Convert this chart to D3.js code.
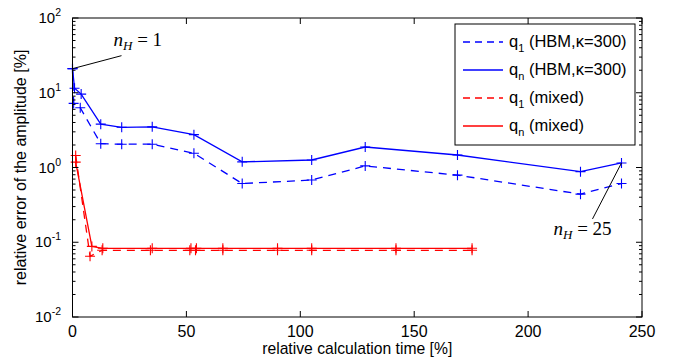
<!DOCTYPE html>
<html>
<head>
<meta charset="utf-8">
<script src="https://cdn.jsdelivr.net/npm/d3@7"></script>
<style>
  body { margin: 0; background: #fff; }
  text { font-family: "Liberation Sans", Arial, Helvetica, sans-serif; }
  text.math { font-family: "Liberation Serif", "DejaVu Serif", serif; }
</style>
</head>
<body>
<script>
// chart data
var hbmTimeN = [0, 0.9, 3.8, 12.4, 21.6, 35, 53.3, 74.5, 105, 128.5, 169, 223, 241];
var hbmErrN = [21, 11.5, 9.6, 3.8, 3.45, 3.5, 2.75, 1.19, 1.26, 1.88, 1.47, 0.88, 1.15];
var hbmTime1 = [0, 0.5, 3.4, 12.4, 21.6, 35, 53.3, 74.5, 105, 128.5, 169, 223, 241];
var hbmErr1 = [21, 7.2, 6.3, 2.08, 2.05, 2.05, 1.55, 0.61, 0.68, 1.05, 0.79, 0.44, 0.61];
var mixTime1 = [1.4, 7.7, 13, 34.2, 51.5, 54, 66, 90, 105, 142, 175.4];
var mixErr1 = [1.45, 0.065, 0.078, 0.078, 0.078, 0.078, 0.078, 0.078, 0.078, 0.078, 0.078];
var mixTimeN = [1.4, 8.5, 13.3, 35, 52, 54.4, 66, 90, 105, 142, 175.4];
var mixErrN = [1.18, 0.088, 0.083, 0.083, 0.083, 0.083, 0.083, 0.083, 0.083, 0.083, 0.083];

var xTicks = [0, 50, 100, 150, 200, 250];
var yTicks = [2, 1, 0, -1, -2]; // exponents

var seriesNames = ["q|1| (HBM,κ=300)", "q|n| (HBM,κ=300)", "q|1| (mixed)", "q|n| (mixed)"];

var w = 674;
var h = 362;

var svg = d3.select("body").append("svg").attr("width", w).attr("height", h);

// plot box (note: "top" is a reserved global in browsers)
var pLeft = 72.5, pRight = 642, pTop = 18, pBottom = 317;

var x = d3.scaleLinear().domain([0, 250]).range([pLeft, pRight]);
var y = d3.scaleLog().domain([0.01, 100]).range([pBottom, pTop]);

var blue = "#0000ff", red = "#ff0000";
var dash = "8,6";

var series = [
  { t: hbmTime1, e: hbmErr1, color: blue, dash: dash },
  { t: hbmTimeN, e: hbmErrN, color: blue, dash: null },
  { t: mixTime1, e: mixErr1, color: red, dash: dash },
  { t: mixTimeN, e: mixErrN, color: red, dash: null }
];

// lines + markers
var line = d3.line().x(function (d) { return x(d[0]); }).y(function (d) { return y(d[1]); });

series.forEach(function (s) {
  var pts = s.t.map(function (t, i) { return [t, s.e[i]]; });
  svg.append("path")
    .attr("d", line(pts))
    .attr("fill", "none")
    .attr("stroke", s.color)
    .attr("stroke-width", 1.3)
    .attr("stroke-dasharray", s.dash);
  svg.append("g").selectAll("path")
    .data(pts)
    .enter()
    .append("path")
    .attr("d", function (d) {
      var cx = x(d[0]), cy = y(d[1]);
      return "M" + (cx - 5) + "," + cy + "H" + (cx + 5) + "M" + cx + "," + (cy - 5) + "V" + (cy + 5);
    })
    .attr("stroke", s.color)
    .attr("stroke-width", 1.1);
});

// frame
svg.append("rect")
  .attr("x", pLeft).attr("y", pTop)
  .attr("width", pRight - pLeft).attr("height", pBottom - pTop)
  .attr("fill", "none").attr("stroke", "black").attr("stroke-width", 1);

// x ticks (inside, bottom and top)
var gx = svg.append("g");
xTicks.forEach(function (t) {
  gx.append("line").attr("x1", x(t)).attr("x2", x(t)).attr("y1", pBottom).attr("y2", pBottom - 6).attr("stroke", "black");
  gx.append("line").attr("x1", x(t)).attr("x2", x(t)).attr("y1", pTop).attr("y2", pTop + 6).attr("stroke", "black");
  gx.append("text").attr("x", x(t)).attr("y", 337).attr("text-anchor", "middle")
    .attr("font-size", 16).text(t);
});

// y ticks, log decades with minor ticks
var gy = svg.append("g");
yTicks.forEach(function (p) {
  var v = Math.pow(10, p);
  [pLeft, pRight].forEach(function (ax, k) {
    var dir = k === 0 ? 1 : -1;
    gy.append("line").attr("x1", ax).attr("x2", ax + dir * 6).attr("y1", y(v)).attr("y2", y(v)).attr("stroke", "black");
    if (p < 2) {
      for (var m = 2; m <= 9; m++) {
        var yy = y(m * v);
        gy.append("line").attr("x1", ax).attr("x2", ax + dir * 3).attr("y1", yy).attr("y2", yy).attr("stroke", "black");
      }
    }
  });
  var lab = gy.append("text").attr("x", 61).attr("y", y(v) + 5).attr("text-anchor", "end").attr("font-size", 15);
  lab.append("tspan").text("10");
  lab.append("tspan").attr("dy", -7).attr("font-size", 10.5).text(p);
});

// axis labels
svg.append("text")
  .attr("x", (pLeft + pRight) / 2).attr("y", 354)
  .attr("text-anchor", "middle").attr("font-size", 15.7)
  .text("relative calculation time [%]");

svg.append("text")
  .attr("transform", "translate(26," + (pTop + pBottom) / 2 + ") rotate(-90)")
  .attr("text-anchor", "middle").attr("font-size", 16)
  .text("relative error of the amplitude [%]");

// legend
var lg = svg.append("g");
lg.append("rect").attr("x", 455).attr("y", 24).attr("width", 180).attr("height", 121)
  .attr("fill", "white").attr("stroke", "black").attr("stroke-width", 1);
seriesNames.forEach(function (name, i) {
  var ry = 42 + i * 28;
  lg.append("line").attr("x1", 463).attr("x2", 503).attr("y1", ry).attr("y2", ry)
    .attr("stroke", series[i].color).attr("stroke-width", 1.3)
    .attr("stroke-dasharray", series[i].dash ? "7,5" : null);
  var parts = name.split("|");
  var tx = lg.append("text").attr("x", 509).attr("y", ry + 5).attr("font-size", 16.5);
  tx.append("tspan").text(parts[0]);
  tx.append("tspan").attr("dy", 5).attr("font-size", 11).text(parts[1]);
  tx.append("tspan").attr("dy", -5).text(parts[2].replace(" ", "\u00a0"));
});

// annotations
function mathLabel(px, py, num) {
  var t = svg.append("text").attr("class", "math").attr("x", px).attr("y", py)
    .attr("font-size", 19);
  t.append("tspan").attr("font-style", "italic").text("n");
  t.append("tspan").attr("font-style", "italic").attr("font-size", 13).attr("dy", 4).text("H");
  t.append("tspan").attr("dy", -4).text("\u00a0=\u00a0" + num);
}

var p1 = [x(hbmTimeN[0]), y(hbmErrN[0])];
svg.append("line").attr("x1", p1[0]).attr("y1", p1[1]).attr("x2", p1[0] + 49).attr("y2", p1[1] - 13)
  .attr("stroke", "black").attr("stroke-width", 1);
mathLabel(p1[0] + 41, p1[1] - 23, 1);

var last = hbmTimeN.length - 1;
var p2 = [x(hbmTimeN[last]), y(hbmErrN[last])];
svg.append("line").attr("x1", p2[0]).attr("y1", p2[1]).attr("x2", p2[0] - 29).attr("y2", p2[1] + 56)
  .attr("stroke", "black").attr("stroke-width", 1);
mathLabel(p2[0] - 68, p2[1] + 72, 25);
</script>
</body>
</html>
